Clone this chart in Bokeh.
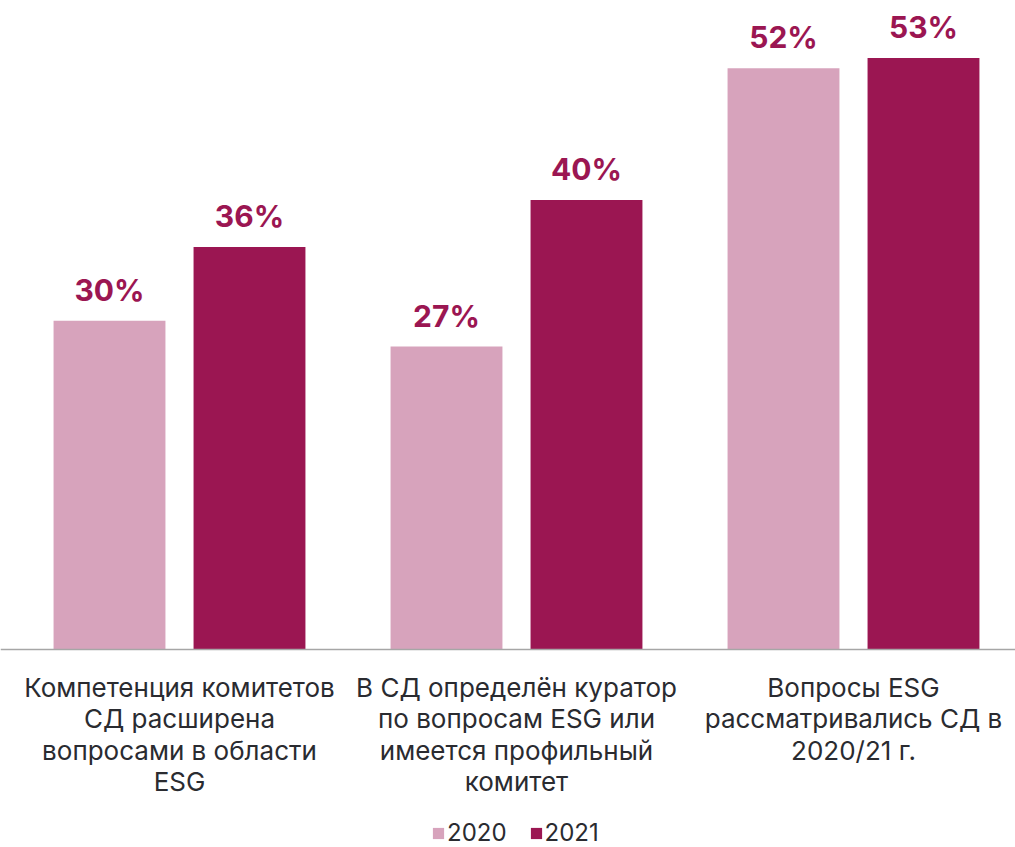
from bokeh.plotting import figure
from bokeh.models import ColumnDataSource, Range1d, Legend, LegendItem, LabelSet, Span
from bokeh.core.properties import value
from bokeh.transform import dodge
from bokeh.embed import file_html
from bokeh.resources import INLINE

categories = ["Компетенция комитетов\nСД расширена\nвопросами в области\nESG",
              "В СД определён куратор\nпо вопросам ESG или\nимеется профильный\nкомитет",
              "Вопросы ESG\nрассматривались СД в\n2020/21 г."]
years = ["2020", "2021"]
values_2020 = [29.4, 27.1, 52.0]
values_2021 = [36.0, 40.2, 52.9]
labels_2020 = ["30%", "27%", "52%"]
labels_2021 = ["36%", "40%", "53%"]

PINK = "#D7A3BC"
DARK = "#9B1652"

pos = [i + 0.5 for i in range(len(categories))]
src = ColumnDataSource(dict(x=pos, v20=values_2020, v21=values_2021,
                            l20=labels_2020, l21=labels_2021))

W, H = 1015, 847
PX = 337.0      # pixels per category
PY = 11.18      # pixels per percent
x0 = 0.5 - 179 / PX
y1 = 649 / PY
y0 = -(H - 649) / PY
p = figure(width=W, height=H, output_backend="svg", toolbar_location=None,
           x_range=Range1d(x0, x0 + W / PX), y_range=Range1d(y0, y1),
           min_border_left=0, min_border_right=0, min_border_top=0, min_border_bottom=0)
p.outline_line_color = None
p.xgrid.visible = False
p.ygrid.visible = False
p.xaxis.visible = False
p.yaxis.visible = False

off = 0.2077
bw = 0.332
r20 = p.vbar(x=dodge("x", -off, range=p.x_range), top="v20", width=bw, source=src,
             fill_color=PINK, line_color=None)
r21 = p.vbar(x=dodge("x", off, range=p.x_range), top="v21", width=bw, source=src,
             fill_color=DARK, line_color=None)

p.add_layout(Span(location=0, dimension="width", line_color="#A6A6A6", line_width=1.5))

for col, lab, o in [("v20", "l20", -off), ("v21", "l21", off)]:
    ls = LabelSet(x=dodge("x", o, range=p.x_range), y=col, text=lab, source=src,
                  text_align="center", text_baseline="alphabetic", y_offset=20,
                  text_font=value("Inter"), text_font_style="bold", text_font_size="30px",
                  text_color=DARK)
    p.add_layout(ls)

# category labels, each line centred under its group
lx, ly, lt = [], [], []
for xc, cat in zip(pos, categories):
    for j, line in enumerate(cat.split("\n")):
        lx.append(xc)
        ly.append(-(47 + j * 31.5) / PY)
        lt.append(line)
line_src = ColumnDataSource(dict(x=lx, y=ly, t=lt))
cat_labels = LabelSet(x="x", y="y", text="t", source=line_src,
                      text_align="center", text_baseline="alphabetic",
                      text_font=value("Inter"), text_font_size="26px",
                      text_color="#2A2B30")
p.add_layout(cat_labels)

legend = Legend(items=[LegendItem(label=years[0], renderers=[r20]),
                       LegendItem(label=years[1], renderers=[r21])],
                orientation="horizontal", location=(431, 0),
                label_text_font="Inter", label_text_font_size="24px",
                label_text_color="#2A2B30", glyph_width=14, glyph_height=14,
                spacing=22, label_standoff=2, border_line_color=None,
                background_fill_alpha=0, padding=0, margin=0)
p.add_layout(legend, "center")

open("out.html", "w").write(file_html(p, INLINE))
